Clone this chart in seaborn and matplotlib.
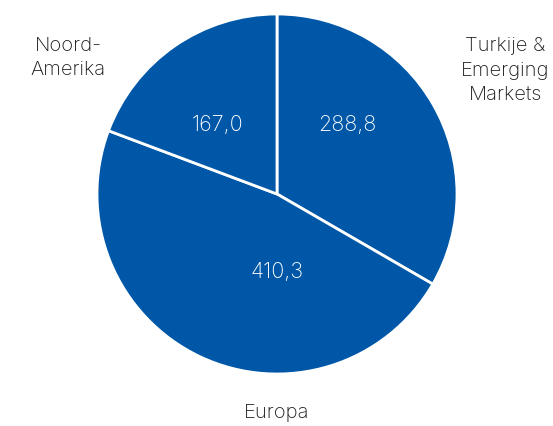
import matplotlib
matplotlib.use('Agg')
import matplotlib.pyplot as plt
import seaborn as sns

regions = ['Turkije &\nEmerging\nMarkets', 'Europa', 'Noord-\nAmerika']
values = [288.8, 410.3, 167.0]
value_labels = ['288,8', '410,3', '167,0']

sns.set_style('white')
plt.rcParams['font.family'] = ['Inter', 'DejaVu Sans']

blue = '#0057a8'

fig = plt.figure(figsize=(5.53, 4.27), dpi=100)
# pie centre ~ (277, 195) px, radius ~180 px
ax = fig.add_axes([(277 - 180) / 553, (232 - 180) / 427, 360 / 553, 360 / 427])

wedges, _ = ax.pie(values, colors=[blue] * len(values), startangle=90, counterclock=False,
                   radius=1, wedgeprops=dict(edgecolor='white', linewidth=2))
ax.set_xlim(-1, 1)
ax.set_ylim(-1, 1)
ax.set_aspect('equal')
ax.axis('off')

# label placement (pie radius units)
outer_pos = [(1.27, 0.69), (0.0, -1.21), (-1.16, 0.76)]
inner_pos = [(0.39, 0.39), (0.0, -0.43), (-0.33, 0.39)]

for name, vl, (ox, oy), (ix, iy) in zip(regions, value_labels, outer_pos, inner_pos):
    ax.text(ox, oy, name, ha='center', va='center', fontsize=14.5, color='#1a1a1a',
            fontweight='light', linespacing=1.45, clip_on=False)
    ax.text(ix, iy, vl, ha='center', va='center', fontsize=15.5, color='white',
            fontweight='light')

fig.savefig('out.png', dpi=100)
